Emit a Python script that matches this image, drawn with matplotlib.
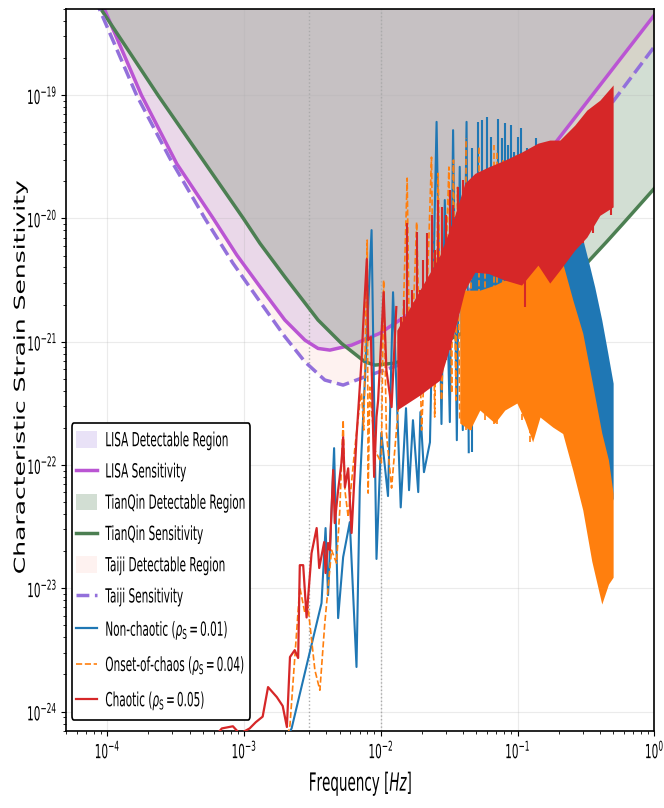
import matplotlib
matplotlib.use('Agg')
import matplotlib.pyplot as plt
from matplotlib.patches import Patch
from matplotlib.lines import Line2D
from matplotlib.patheffects import AbstractPathEffect
from matplotlib.transforms import Affine2D

# --- detector sensitivity curves (characteristic strain) ---
lisa_f = [8.0e-5, 9.6e-5, 1.78e-4, 3.23e-4, 5.96e-4, 8.87e-4, 1.31e-3, 1.99e-3,
          2.79e-3, 3.48e-3, 4.25e-3, 6.12e-3, 9.84e-3, 1.93e-2, 2.71e-2, 4.12e-2,
          7.43e-2, 0.172, 1.0]
lisa_h = [7.9e-19, 4.9e-19, 1.0e-19, 2.77e-20, 1.0e-20, 5.04e-21, 2.79e-21, 1.50e-21,
          1.03e-21, 8.82e-22, 8.55e-22, 9.38e-22, 1.17e-21, 1.92e-21, 2.77e-21, 4.32e-21,
          1.01e-20, 3.58e-20, 4.46e-19]

tianqin_f = [7.5e-5, 9.1e-5, 2.35e-4, 9.9e-4, 1.31e-3, 1.99e-3, 3.48e-3, 5.16e-3,
             7.66e-3, 9.06e-3, 1.27e-2, 1.93e-2, 4.12e-2, 0.123, 0.328, 0.448, 0.592, 1.0]
tianqin_h = [6.7e-19, 4.9e-19, 1.0e-19, 1.0e-20, 6.27e-21, 3.36e-21, 1.50e-21, 9.7e-22,
             6.87e-22, 6.46e-22, 6.7e-22, 8.04e-22, 1.20e-21, 2.06e-21, 4.45e-21, 6.46e-21,
             9.1e-21, 1.75e-20]

taiji_f = [7.35e-5, 8.84e-5, 1.64e-4, 2.87e-4, 5.18e-4, 8.30e-4, 1.31e-3, 1.99e-3,
           2.79e-3, 3.90e-3, 5.31e-3, 7.66e-3, 1.35e-2, 2.29e-2, 4.12e-2, 0.530, 1.0]
taiji_h = [7.9e-19, 4.9e-19, 1.0e-19, 3.08e-20, 1.0e-20, 4.34e-21, 2.11e-21, 1.10e-21,
           6.87e-22, 4.89e-22, 4.45e-22, 5.19e-22, 6.46e-22, 1.09e-21, 2.31e-21, 9.7e-20,
           2.47e-19]

# --- non-chaotic signal (rho_S = 0.01) ---
blue_trace_f = [2.09e-3, 2.23e-3, 3.03e-3, 3.69e-3, 3.95e-3, 4.12e-3, 4.56e-3, 4.88e-3,
                5.31e-3, 5.94e-3, 6.65e-3, 7.03e-3, 7.66e-3, 8.57e-3, 9.31e-3, 1.01e-2,
                1.13e-2, 1.23e-2, 1.40e-2, 1.53e-2, 1.61e-2, 1.72e-2, 1.88e-2, 1.95e-2,
                2.07e-2, 2.29e-2, 2.56e-2, 2.78e-2, 2.94e-2, 3.20e-2, 3.38e-2, 3.60e-2,
                3.78e-2, 3.98e-2, 4.24e-2, 4.40e-2]
blue_trace_h = [6.4e-25, 7.3e-25, 3.04e-24, 7.58e-24, 3.08e-23, 8.8e-24, 1.37e-22, 5.73e-24,
                1.79e-23, 3.44e-23, 2.30e-24, 6.62e-23, 4.89e-22, 8.04e-21, 1.73e-23, 1.82e-22,
                5.60e-23, 2.52e-21, 4.53e-23, 2.89e-22, 6.25e-23, 2.31e-22, 6.03e-23, 2.69e-22,
                8.75e-23, 1.53e-22, 6.07e-20, 2.15e-22, 1.41e-20, 2.23e-22, 5.20e-20, 1.59e-22,
                2.62e-20, 1.92e-22, 6.07e-20, 1.27e-22]
blue_spike_f = [4.61e-2, 5.11e-2, 5.46e-2, 5.97e-2, 6.38e-2, 7.14e-2, 7.64e-2, 8.07e-2,
                8.45e-2, 8.89e-2, 9.44e-2, 0.101, 0.106, 0.117, 0.136, 0.158]
blue_spike_top = [3.72e-20, 6.07e-20, 6.27e-20, 6.64e-20, 4.56e-20, 6.39e-20, 4.46e-20, 5.93e-20,
                  3.93e-20, 5.71e-20, 3.45e-20, 4.56e-20, 5.37e-20, 3.72e-20, 4.46e-20, 2.97e-20]
blue_spike_bot = [1.27e-22, 3.36e-22, 4.05e-22, 4.45e-22, 2.79e-22, 2.40e-22, 3.36e-22, 3.06e-22,
                  3.69e-22, 3.36e-22, 3.16e-22, 3.69e-22, 3.36e-22, 2.79e-22, 3.36e-22, 3.69e-22]
blue_band_f = [4.48e-2, 7.43e-2, 0.123, 0.204, 0.262, 0.285, 0.338, 0.367, 0.413, 0.457, 0.5]
blue_band_top = [6.67e-21, 8.04e-21, 8.83e-21, 1.06e-20, 1.06e-20, 8.49e-21, 4.03e-21, 2.77e-21,
                 1.50e-21, 8.09e-22, 4.61e-22]
blue_band_bot = [3.36e-22, 4.05e-22, 3.69e-22, 3.36e-22, 2.31e-22, 1.92e-22, 1.45e-22, 1.20e-22,
                 8.98e-23, 6.87e-23, 5.19e-23]

# --- onset-of-chaos signal (rho_S = 0.04) ---
orange_trace_f = [2.09e-3, 2.17e-3, 2.56e-3, 2.79e-3, 2.94e-3, 3.30e-3, 3.59e-3, 3.90e-3,
                  4.37e-3, 4.75e-3, 5.02e-3, 5.31e-3, 5.47e-3, 5.78e-3, 6.48e-3, 7.03e-3,
                  7.24e-3, 7.51e-3, 7.96e-3, 8.09e-3, 8.32e-3, 9.06e-3, 1.01e-2, 1.05e-2,
                  1.10e-2, 1.20e-2, 1.34e-2, 1.45e-2, 1.56e-2, 1.64e-2, 1.83e-2, 1.99e-2,
                  2.14e-2, 2.35e-2, 2.48e-2, 2.63e-2, 2.78e-2, 2.94e-2, 3.15e-2, 3.30e-2,
                  3.40e-2, 3.54e-2, 3.64e-2, 3.78e-2]
orange_trace_h = [6.4e-25, 7.78e-25, 1.02e-23, 6.29e-24, 7.05e-24, 2.17e-24, 1.49e-24, 5.22e-24,
                  2.04e-23, 1.60e-23, 4.31e-23, 2.31e-22, 6.25e-23, 3.78e-23, 1.40e-22, 3.18e-22,
                  3.83e-22, 1.92e-22, 6.67e-21, 5.92e-23, 4.28e-22, 1.32e-22, 1.04e-22, 3.16e-21,
                  1.82e-22, 6.50e-23, 2.79e-22, 1.24e-21, 2.12e-20, 3.36e-22, 9.33e-21, 1.92e-22,
                  1.24e-21, 3.14e-20, 2.45e-22, 2.32e-20, 3.36e-22, 2.17e-21, 2.61e-20, 3.83e-22,
                  2.97e-20, 3.36e-22, 1.79e-20, 2.31e-22]
orange_spike_f = [4.19e-2, 4.56e-2, 5.19e-2, 5.77e-2, 6.68e-2, 7.10e-2, 7.82e-2, 8.79e-2,
                  9.73e-2, 0.107, 0.123, 0.136]
orange_spike_top = [4.48e-20, 1.70e-20, 3.79e-20, 2.47e-20, 3.93e-20, 3.58e-20, 2.97e-20, 2.47e-20,
                    3.26e-20, 2.25e-20, 1.70e-20, 1.41e-20]
orange_spike_bot = [1.92e-22, 1.92e-22, 2.79e-22, 2.31e-22, 2.17e-22, 2.17e-22, 2.79e-22, 3.06e-22,
                    3.16e-22, 2.31e-22, 1.54e-22, 2.31e-22]
orange_band_f = [3.78e-2, 4.48e-2, 5.30e-2, 6.82e-2, 8.07e-2, 9.89e-2, 0.113, 0.129, 0.146,
                 0.181, 0.214, 0.254, 0.300, 0.349, 0.413, 0.462, 0.5]
orange_band_top = [2.62e-21, 2.62e-21, 2.62e-21, 2.88e-21, 3.16e-21, 3.16e-21, 6.67e-21, 6.67e-21,
                   7.60e-21, 6.67e-21, 4.34e-21, 2.17e-21, 1.17e-21, 4.89e-22, 1.82e-22, 1.10e-22,
                   5.89e-23]
orange_band_bot = [2.19e-22, 1.92e-22, 2.79e-22, 2.19e-22, 2.79e-22, 3.18e-22, 2.31e-22, 1.54e-22,
                   2.45e-22, 2.03e-22, 1.80e-22, 8.98e-23, 4.31e-23, 1.66e-23, 7.45e-24, 1.08e-23,
                   1.23e-23]

# --- chaotic signal (rho_S = 0.05) ---
red_trace_f = [6.23e-4, 6.89e-4, 8.30e-4, 9.33e-4, 1.10e-3, 1.22e-3, 1.37e-3, 1.50e-3,
               1.74e-3, 1.92e-3, 2.06e-3, 2.17e-3, 2.35e-3, 2.49e-3, 2.56e-3, 2.71e-3,
               2.87e-3, 3.12e-3, 3.40e-3, 3.55e-3, 3.86e-3, 3.95e-3, 4.12e-3, 4.25e-3,
               4.49e-3, 4.61e-3, 4.88e-3, 5.16e-3, 5.31e-3, 5.47e-3, 5.78e-3, 6.12e-3,
               6.65e-3, 7.24e-3, 7.43e-3, 7.91e-3, 8.09e-3, 8.48e-3, 8.95e-3, 9.31e-3,
               9.57e-3, 1.05e-2, 1.10e-2, 1.20e-2, 1.30e-2]
red_trace_h = [6.4e-25, 7.3e-25, 7.6e-25, 6.6e-25, 7.3e-25, 8.2e-25, 9.1e-25, 1.58e-24,
               1.31e-24, 1.11e-24, 7.5e-25, 2.77e-24, 3.15e-24, 2.72e-24, 1.54e-23, 1.54e-23,
               5.8e-24, 1.93e-23, 3.08e-23, 1.46e-23, 2.37e-23, 1.33e-23, 2.33e-23, 2.04e-23,
               9.1e-23, 3.38e-23, 6.25e-23, 1.04e-22, 1.68e-22, 6.6e-23, 9.4e-23, 2.81e-23,
               1.68e-22, 7.1e-22, 1.32e-21, 4.68e-21, 1.03e-21, 1.09e-21, 8.0e-23, 2.45e-22,
               3.36e-22, 2.52e-21, 5.9e-22, 2.95e-22, 1.91e-21]
red_spike_f = [1.40e-2, 1.48e-2, 1.56e-2, 1.69e-2, 1.83e-2, 1.93e-2, 2.03e-2, 2.18e-2,
               2.37e-2, 2.48e-2, 2.63e-2, 2.80e-2, 2.99e-2, 3.20e-2, 3.37e-2, 3.68e-2, 4.00e-2,
               0.113, 0.302, 0.357, 0.411, 0.486]
red_spike_top = [1.58e-21, 2.17e-21, 9.16e-21, 2.62e-21, 7.74e-21, 2.62e-21, 4.59e-21, 7.55e-21,
                 1.06e-20, 5.53e-21, 1.41e-20, 1.24e-20, 1.06e-20, 1.70e-20, 1.28e-20, 1.79e-20,
                 2.05e-20, 3.0e-20, 6.0e-20, 7.0e-20, 8.0e-20, 9.0e-20]
red_spike_bot = [2.95e-22, 3.36e-22, 3.69e-22, 3.69e-22, 4.05e-22, 4.45e-22, 4.89e-22, 4.45e-22,
                 4.89e-22, 5.36e-22, 5.89e-22, 7.10e-22, 7.10e-22, 8.55e-22, 1.24e-21, 2.17e-21,
                 2.62e-21, 1.92e-21, 6.27e-21, 7.55e-21, 1.36e-20, 1.06e-20]
red_band_f = [1.31e-2, 1.93e-2, 2.71e-2, 3.48e-2, 4.12e-2, 4.88e-2, 6.10e-2, 8.07e-2, 0.107,
              0.141, 0.172, 0.204, 0.262, 0.321, 0.400, 0.5]
red_band_top = [1.24e-21, 2.62e-21, 5.04e-21, 1.06e-20, 1.93e-20, 2.32e-20, 2.61e-20, 2.97e-20,
                3.45e-20, 4.08e-20, 4.32e-20, 4.32e-20, 5.71e-20, 7.56e-20, 9.1e-20, 1.21e-19]
red_band_bot = [2.79e-22, 3.69e-22, 4.89e-22, 1.24e-21, 2.62e-21, 3.66e-21, 3.58e-21, 3.16e-21,
                2.88e-21, 4.18e-21, 2.99e-21, 3.81e-21, 5.53e-21, 7.05e-21, 1.06e-20, 1.24e-20]

markers_f = [3e-3, 1e-2]

SQUEEZE = 0.54   # horizontal compression of the lettering


class Squeeze(AbstractPathEffect):
    """Draw a path compressed horizontally about an anchor (or a fixed pivot)."""

    def __init__(self, sx, anchor='center', pivot=None):
        super().__init__()
        self.sx = sx
        self.anchor = anchor
        self.pivot = pivot

    def draw_path(self, renderer, gc, tpath, affine, rgbFace=None):
        if self.pivot is not None:
            x0 = self.pivot()
        else:
            ext = tpath.get_extents(affine)
            x0 = {'left': ext.x0, 'right': ext.x1,
                  'center': 0.5 * (ext.x0 + ext.x1)}[self.anchor]
        t = affine + Affine2D().translate(-x0, 0).scale(self.sx, 1).translate(x0, 0)
        renderer.draw_path(gc, tpath, t, rgbFace)


TOP = 1e-15
C_LISA = 'mediumorchid'
C_TQ = '#4c7f52'
C_TAIJI = 'mediumpurple'
A_LISA, A_TQ, A_TAIJI = 0.2, 0.25, 0.1

plt.rcParams['font.family'] = 'DejaVu Sans'

fig = plt.figure(figsize=(6.64, 8.08), dpi=100)
ax = fig.add_axes([0.0994, 0.0957, 0.886, 0.8932])
ax.set_xscale('log')
ax.set_yscale('log')

# detectable regions and sensitivity curves
ax.fill_between(lisa_f, lisa_h, TOP, color='mediumpurple', alpha=A_LISA, lw=0, zorder=1)
ax.plot(lisa_f, lisa_h, color=C_LISA, lw=2.5, zorder=2)
ax.fill_between(tianqin_f, tianqin_h, TOP, color=C_TQ, alpha=A_TQ, lw=0, zorder=1)
ax.plot(tianqin_f, tianqin_h, color=C_TQ, lw=2.5, zorder=2)
ax.fill_between(taiji_f, taiji_h, TOP, color='salmon', alpha=A_TAIJI, lw=0, zorder=1)
ax.plot(taiji_f, taiji_h, color=C_TAIJI, lw=2.5, ls='--', zorder=2)

for fv in markers_f:
    ax.axvline(fv, color='#aaaaaa', ls=':', lw=1.0, zorder=1.8)

# signals
ax.fill_between(blue_band_f, blue_band_bot, blue_band_top, color='tab:blue', lw=0, zorder=3)
ax.vlines(blue_spike_f, blue_spike_bot, blue_spike_top, colors='tab:blue', lw=1.5, zorder=3)
ax.plot(blue_trace_f, blue_trace_h, color='tab:blue', lw=1.5, zorder=3)

ax.fill_between(orange_band_f, orange_band_bot, orange_band_top, color='tab:orange', lw=0,
                zorder=3.1)
ax.vlines(orange_spike_f, orange_spike_bot, orange_spike_top, colors='tab:orange', lw=1.2,
          linestyles='--', zorder=3.1)
ax.plot(orange_trace_f, orange_trace_h, color='tab:orange', lw=1.2, ls='--', zorder=3.1)

ax.fill_between(red_band_f, red_band_bot, red_band_top, color='tab:red', lw=0, zorder=3.2)
ax.vlines(red_spike_f, red_spike_bot, red_spike_top, colors='tab:red', lw=1.5, zorder=3.2)
ax.plot(red_trace_f, red_trace_h, color='tab:red', lw=1.6, zorder=3.2)

ax.set_xlim(5e-5, 1.0)
ax.set_ylim(7e-25, 5e-19)
ax.grid(True, which='major', color='#b0b0b0', alpha=0.25, lw=0.8)
for s in ax.spines.values():
    s.set_linewidth(1.2)

ax.tick_params(labelsize=14)
ax.tick_params(axis='y', pad=2.5)
for lab in ax.get_xticklabels():
    lab.set_path_effects([Squeeze(SQUEEZE, 'center')])
for lab in ax.get_yticklabels():
    lab.set_path_effects([Squeeze(SQUEEZE, 'right')])

xl = ax.set_xlabel('Frequency [$Hz$]', fontsize=18)
xl.set_path_effects([Squeeze(SQUEEZE, 'center')])
ax.xaxis.set_label_coords(0.5, -0.054)
yl = ax.set_ylabel('Characteristic Strain Sensitivity', fontsize=18)
yl.set_path_effects([Squeeze(0.6, 'center')])
ax.yaxis.set_label_coords(-0.057, 0.49)

handles = [
    Patch(facecolor='mediumpurple', alpha=A_LISA, edgecolor='none'),
    Line2D([], [], color=C_LISA, lw=2.5),
    Patch(facecolor=C_TQ, alpha=A_TQ, edgecolor='none'),
    Line2D([], [], color=C_TQ, lw=2.5),
    Patch(facecolor='salmon', alpha=A_TAIJI, edgecolor='none'),
    Line2D([], [], color=C_TAIJI, lw=2.5, ls='--'),
    Line2D([], [], color='tab:blue', lw=1.6),
    Line2D([], [], color='tab:orange', lw=1.2, ls='--'),
    Line2D([], [], color='tab:red', lw=1.6),
]
labels = [
    'LISA Detectable Region', 'LISA Sensitivity',
    'TianQin Detectable Region', 'TianQin Sensitivity',
    'Taiji Detectable Region', 'Taiji Sensitivity',
    r'Non-chaotic ($\rho_\mathrm{S} = 0.01$)',
    r'Onset-of-chaos ($\rho_\mathrm{S} = 0.04$)',
    r'Chaotic ($\rho_\mathrm{S} = 0.05$)',
]
LEG_ANCHOR = (0.0097, 0.0148)
leg = ax.legend(handles, labels, loc='lower left', bbox_to_anchor=LEG_ANCHOR,
                borderaxespad=0, fontsize=14, framealpha=1, fancybox=True,
                labelspacing=0.63, handleheight=0.9)
leg.get_frame().set_edgecolor('black')
leg.get_frame().set_linewidth(1.2)
leg.set_zorder(5)

# the whole legend box is compressed about its left edge
leg_pivot = lambda: ax.transAxes.transform(LEG_ANCHOR)[0]
leg_fx = [Squeeze(SQUEEZE, pivot=leg_pivot)]
leg.legendPatch.set_path_effects(leg_fx)
for art in list(leg.get_texts()) + list(leg.legend_handles):
    art.set_path_effects(leg_fx)

fig.savefig('out.png', dpi=100)
